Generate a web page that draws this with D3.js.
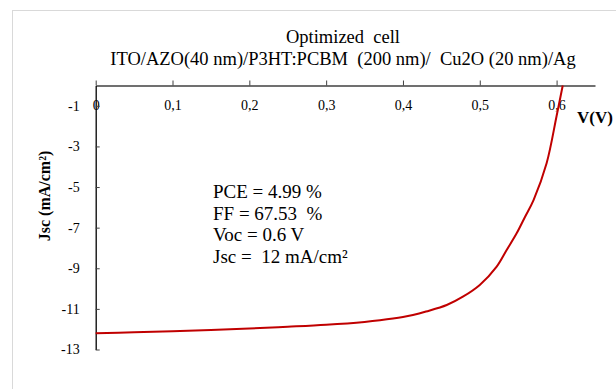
<!DOCTYPE html>
<html>
<head>
<meta charset="utf-8">
<script src="https://cdn.jsdelivr.net/npm/d3@7"></script>
<style>
  body { margin: 0; background: #fff; }
  text { font-family: "Liberation Serif", "Times New Roman", serif; fill: #000; }
</style>
</head>
<body>
<div id="chart"></div>
<script>
// J-V curve
const voltage = [0, 0.05, 0.1, 0.15, 0.2, 0.25, 0.3, 0.35, 0.37, 0.4, 0.413, 0.43, 0.457, 0.478, 0.5, 0.522, 0.535, 0.548, 0.559, 0.57, 0.587, 0.6, 0.608];
const current = [-12.2, -12.15, -12.1, -12.04, -11.97, -11.88, -11.78, -11.64, -11.56, -11.4, -11.3, -11.13, -10.81, -10.4, -9.82, -8.92, -8.1, -7.28, -6.46, -5.64, -3.83, -1.5, 0];

const xTicks = [0, 0.1, 0.2, 0.3, 0.4, 0.5, 0.6];
const yTicks = [-1, -3, -5, -7, -9, -11, -13];
const titleLines = ['Optimized  cell', 'ITO/AZO(40 nm)/P3HT:PCBM  (200 nm)/  Cu2O (20 nm)/Ag'];
const notes = ['PCE = 4.99 %', 'FF = 67.53  %', 'Voc = 0.6 V', 'Jsc =  12 mA/cm²'];

const width = 616, height = 389;

const svg = d3.select('#chart').append('svg')
    .attr('width', width)
    .attr('height', height);

// chart area frame
svg.append('rect')
    .attr('x', 12.5).attr('y', 10.5)
    .attr('width', 700).attr('height', 500)
    .attr('fill', '#fff')
    .attr('stroke', '#d9d9d9');

const x = d3.scaleLinear().domain([0, 0.65]).range([95.7, 595]);
const y = d3.scaleLinear().domain([0, -13]).range([85.5, 349.5]);

// titles
svg.selectAll('text.title')
  .data(titleLines)
  .enter().append('text')
    .attr('class', 'title')
    .attr('x', 343)
    .attr('y', (d, i) => 43 + i * 22)
    .attr('text-anchor', 'middle')
    .style('white-space', 'pre')
    .style('font-size', '18.5px')
    .text(d => d);

// x axis (ticks up, labels below)
const xAxis = svg.append('g')
    .attr('transform', 'translate(0,' + y(0) + ')')
    .call(d3.axisTop(x)
      .tickValues(xTicks)
      .tickSizeInner(5)
      .tickSizeOuter(0)
      .tickFormat(d => d3.format('.1f')(d).replace('.', ',').replace(/^0,0$/, '0')));

xAxis.attr('font-family', null).attr('font-size', null);
xAxis.select('.domain').attr('stroke', '#404040').attr('stroke-width', 1.3);
xAxis.selectAll('.tick line').attr('stroke', '#404040');
xAxis.selectAll('.tick text')
    .attr('y', 20)
    .attr('dy', '0.32em')
    .style('font-size', '14px');

// y axis (ticks right, labels left)
const yAxis = svg.append('g')
    .attr('transform', 'translate(' + x(0) + ',0)')
    .call(d3.axisRight(y)
      .tickValues(yTicks)
      .tickSizeInner(4)
      .tickSizeOuter(0)
      .tickFormat(d => String(d).replace('−', '-')));

yAxis.attr('font-family', null).attr('font-size', null);
yAxis.select('.domain').attr('stroke', '#000').attr('stroke-width', 1.3);
yAxis.selectAll('.tick line').attr('stroke', '#404040');
yAxis.selectAll('.tick text')
    .attr('x', -16)
    .attr('text-anchor', 'end')
    .style('font-size', '14px');

// axis titles
svg.append('text')
    .attr('x', 577)
    .attr('y', 123)
    .style('font-size', '17px')
    .style('font-weight', 'bold')
    .text('V(V)');

svg.append('text')
    .attr('transform', 'translate(50,196) rotate(-90)')
    .attr('text-anchor', 'middle')
    .style('font-size', '16px')
    .style('font-weight', 'bold')
    .text('Jsc (mA/cm²)');

// curve
const pts = voltage.map((v, i) => [v, current[i]]);
svg.append('path')
    .datum(pts)
    .attr('fill', 'none')
    .attr('stroke', '#c00000')
    .attr('stroke-width', 2)
    .attr('d', d3.line()
      .x(d => x(d[0]))
      .y(d => y(d[1]))
      .curve(d3.curveCatmullRom.alpha(0.5)));

// result notes
svg.selectAll('text.note')
  .data(notes)
  .enter().append('text')
    .attr('class', 'note')
    .attr('x', 213)
    .attr('y', (d, i) => 198 + i * 21.5)
    .style('white-space', 'pre')
    .style('font-size', '19px')
    .text(d => d);
</script>
</body>
</html>
